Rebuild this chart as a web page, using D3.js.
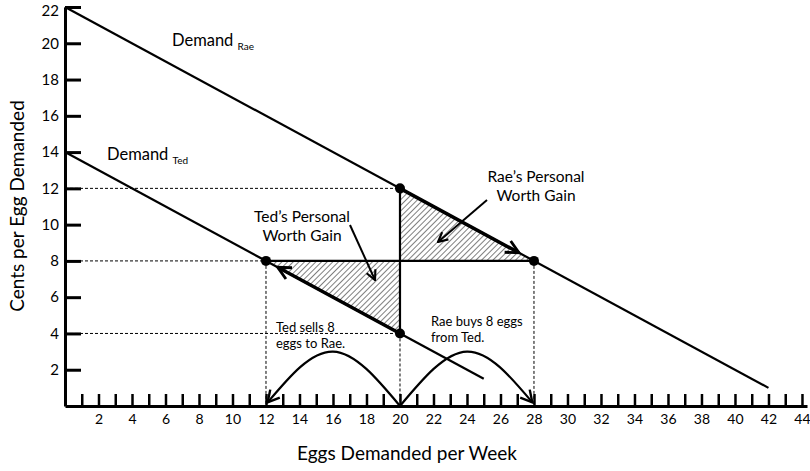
<!DOCTYPE html>
<meta charset="utf-8">
<style>
body { margin:0; background:#fff; }
svg { font-family: Lato, 'Open Sans', sans-serif; }
</style>
<svg width="810" height="471"></svg>
<script src="https://d3js.org/d3.v7.min.js"></script>
<script>

// chart values
var xTicks = d3.range(1, 45)
var yTicks = [2, 4, 6, 8, 10, 12, 14, 16, 18, 20, 22]
var demandRae = [[0, 22], [42, 1]]
var demandTed = [[0, 14], [25, 1.5]]
var raeGain = [[20, 12], [20, 8], [28, 8]]
var tedGain = [[12, 8], [20, 8], [20, 4]]
var dots = [[20, 12], [28, 8], [12, 8], [20, 4]]
var guides = [
    [[0, 12], [20, 12]], [[0, 8], [12, 8]], [[0, 4], [20, 4]],
    [[12, 8], [12, 0]], [[20, 4], [20, 0]], [[28, 8], [28, 0]]
]
var tedSells = [[20, 0], [16, 3], [12.1, 0.2]]
var raeBuys = [[20, 0], [24, 3], [27.9, 0.2]]

var svg = d3.select('svg')
var x = d3.scaleLinear().domain([0, 44.3]).range([65, 807])
var y = d3.scaleLinear().domain([0, 22]).range([406, 7])
var line = d3.line().x(function(d) { return x(d[0]) }).y(function(d) { return y(d[1]) })
var arc = d3.line().x(function(d) { return x(d[0]) }).y(function(d) { return y(d[1]) }).curve(d3.curveNatural)

var defs = svg.append('defs')
var hatch = defs.append('pattern')
    .attr('id', 'hatch')
    .attr('patternUnits', 'userSpaceOnUse')
    .attr('width', 4).attr('height', 4)
    .attr('patternTransform', 'rotate(45)')
hatch.append('line').attr('x1', 0).attr('y1', 0).attr('x2', 0).attr('y2', 4)
    .attr('stroke', '#000').attr('stroke-width', 1)

function marker(id, size) {
    defs.append('marker')
        .attr('id', id)
        .attr('viewBox', '0 0 10 10')
        .attr('refX', 9).attr('refY', 5)
        .attr('markerWidth', size).attr('markerHeight', size)
        .attr('markerUnits', 'userSpaceOnUse')
        .attr('orient', 'auto')
        .append('path')
        .attr('d', 'M1,1 L9,5 L1,9')
        .attr('fill', 'none').attr('stroke', '#000').attr('stroke-width', 1.8)
}
marker('arrow', 12)
marker('bigarrow', 16)

// hatched triangles
svg.selectAll('.gain')
    .data([raeGain, tedGain])
    .enter().append('path')
    .attr('d', function(d) { return line(d) + 'Z' })
    .attr('fill', 'url(#hatch)')
    .attr('stroke', 'none')

// dashed guides
svg.selectAll('.guide')
    .data(guides)
    .enter().append('path')
    .attr('d', line)
    .attr('stroke', '#000')
    .attr('stroke-width', 1)
    .attr('stroke-dasharray', '3,2')
    .attr('fill', 'none')

// demand curves
svg.selectAll('.demand')
    .data([demandRae, demandTed])
    .enter().append('path')
    .attr('d', line)
    .attr('stroke', '#000')
    .attr('stroke-width', 2.2)
    .attr('fill', 'none')

// triangle edges
svg.append('path').attr('d', line([[20, 12], [20, 4]]))
    .attr('stroke', '#000').attr('stroke-width', 2.2)
svg.append('path').attr('d', line([[12, 8], [28, 8]]))
    .attr('stroke', '#000').attr('stroke-width', 2.2)

// thick trade segments with arrows
svg.append('path').attr('d', line([[20, 12], [27.1, 8.45]]))
    .attr('stroke', '#000').attr('stroke-width', 3.5)
    .attr('marker-end', 'url(#bigarrow)')
svg.append('path').attr('d', line([[20, 4], [12.7, 7.65]]))
    .attr('stroke', '#000').attr('stroke-width', 3.5)
    .attr('marker-end', 'url(#bigarrow)')

// dots
svg.selectAll('.dot')
    .data(dots)
    .enter().append('circle')
    .attr('cx', function(d) { return x(d[0]) })
    .attr('cy', function(d) { return y(d[1]) })
    .attr('r', 5)
    .attr('fill', '#000')

// axes
var xAxis = svg.append('g')
    .attr('transform', 'translate(0,' + y(0) + ')')
    .call(d3.axisBottom(x).tickValues(xTicks)
        .tickSizeInner(-12).tickSizeOuter(0).tickPadding(8)
        .tickFormat(function(d) { return d % 2 ? '' : d }))
xAxis.select('.domain').attr('stroke-width', 3)
xAxis.selectAll('.tick line').attr('stroke-width', 2.5)
xAxis.selectAll('.tick text').attr('font-size', 14).attr('font-family', 'Lato').attr('fill', '#000')

var yAxis = svg.append('g')
    .attr('transform', 'translate(' + x(0) + ',0)')
    .call(d3.axisLeft(y).tickValues(yTicks)
        .tickSizeInner(-16).tickSizeOuter(0).tickPadding(6))
yAxis.select('.domain').attr('stroke-width', 3)
yAxis.selectAll('.tick line').attr('stroke-width', 3)
yAxis.selectAll('.tick text').attr('font-size', 15).attr('font-family', 'Lato').attr('fill', '#000')
    .attr('dy', function(d) { return d === 22 ? '0.55em' : '0.32em' })

// trade arcs, drawn above the axis so their heads show
var arcs = svg.selectAll('.arc')
    .data([tedSells, raeBuys])
    .enter().append('g')
arcs.append('path')
    .attr('d', arc)
    .attr('stroke', '#000')
    .attr('stroke-width', 2.2)
    .attr('fill', 'none')
// arrow heads along the final direction of each arc
arcs.append('path')
    .attr('d', function(d) {
        var n = this.parentNode.firstChild, len = n.getTotalLength()
        var p = n.getPointAtLength(len), q = n.getPointAtLength(len - 8)
        var a = Math.atan2(p.y - q.y, p.x - q.x), s = 13, w = 0.5
        return 'M' + (p.x - s * Math.cos(a - w)) + ',' + (p.y - s * Math.sin(a - w)) +
            'L' + p.x + ',' + p.y +
            'L' + (p.x - s * Math.cos(a + w)) + ',' + (p.y - s * Math.sin(a + w))
    })
    .attr('stroke', '#000')
    .attr('stroke-width', 2.4)
    .attr('fill', 'none')

// axis titles
svg.append('text')
    .attr('x', 407).attr('y', 460)
    .attr('text-anchor', 'middle')
    .attr('font-size', 19)
    .text('Eggs Demanded per Week')
svg.append('text')
    .attr('transform', 'translate(24,206) rotate(-90)')
    .attr('text-anchor', 'middle')
    .attr('font-size', 19)
    .text('Cents per Egg Demanded')

// demand labels
function demandLabel(px, py, who) {
    var t = svg.append('text').attr('x', px).attr('y', py).attr('font-size', 16.5)
    t.append('tspan').text('Demand ')
    t.append('tspan').attr('font-size', 10).attr('dy', 4).text(who)
}
demandLabel(172, 46, 'Rae')
demandLabel(107, 160, 'Ted')

// gain labels
function multiLine(px, py, lines, size, gap, anchor) {
    lines.forEach(function(s, i) {
        svg.append('text').attr('x', px).attr('y', py + i * gap)
            .attr('font-size', size).attr('text-anchor', anchor)
            .text(s)
    })
}
multiLine(536, 182, ['Rae\u2019s Personal', 'Worth Gain'], 15.5, 19, 'middle')
multiLine(302, 222, ['Ted\u2019s Personal', 'Worth Gain'], 15.5, 19, 'middle')
multiLine(276, 332, ['Ted sells 8', 'eggs to Rae.'], 13, 16, 'start')
multiLine(431, 326, ['Rae buys 8 eggs', 'from Ted.'], 13, 16, 'start')

// pointer arrows
svg.append('line').attr('x1', 487).attr('y1', 200).attr('x2', 438).attr('y2', 242)
    .attr('stroke', '#000').attr('stroke-width', 2).attr('marker-end', 'url(#arrow)')
svg.append('line').attr('x1', 350).attr('y1', 225).attr('x2', 375).attr('y2', 280)
    .attr('stroke', '#000').attr('stroke-width', 2).attr('marker-end', 'url(#arrow)')

</script>
